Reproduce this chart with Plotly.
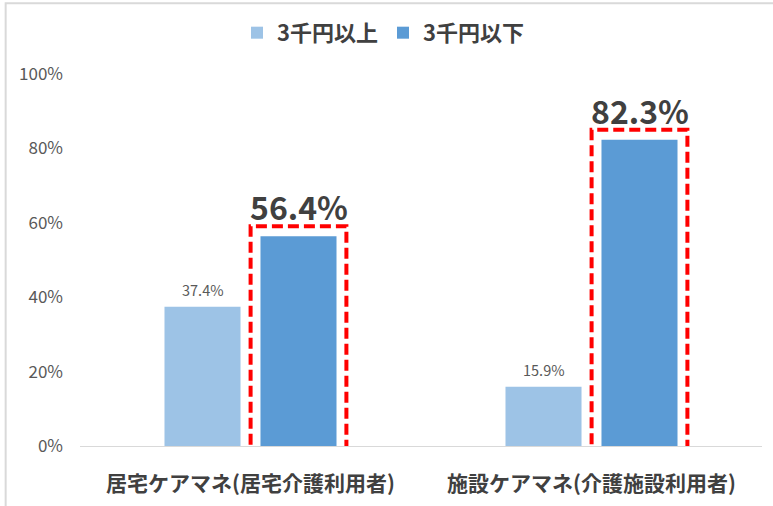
import plotly.graph_objects as go

categories = ["居宅ケアマネ(居宅介護利用者)", "施設ケアマネ(介護施設利用者)"]
series_names = ["3千円以上", "3千円以下"]
values_above = [37.4, 15.9]
values_below = [56.4, 82.3]
y_ticks = [0, 20, 40, 60, 80, 100]
y_tick_labels = ["0%", "20%", "40%", "60%", "80%", "100%"]

FONT = "Noto Sans CJK JP"
LIGHT = "#9DC3E6"
DARK = "#5B9BD5"
BARGAP = 0.437
GROUPGAP = 0.208

fig = go.Figure()
fig.add_trace(go.Bar(name=series_names[0], x=categories, y=values_above,
                     marker=dict(color=LIGHT, line=dict(width=0))))
fig.add_trace(go.Bar(name=series_names[1], x=categories, y=values_below,
                     marker=dict(color=DARK, line=dict(width=0))))

slot = (1 - BARGAP) / 2          # width of one bar slot in category units
bar_w = slot * (1 - GROUPGAP)
offset = slot / 2                # center offset of each bar from category center

annotations = []
shapes = []
for i, cat in enumerate(categories):
    annotations.append(dict(x=i - offset, y=values_above[i], xref="x", yref="y",
                            text=f"{values_above[i]:.1f}%", showarrow=False,
                            yanchor="middle", yshift=17,
                            font=dict(family=FONT, size=14.5, color="#595959")))
    annotations.append(dict(x=i + offset, y=values_below[i], xref="x", yref="y",
                            text=f"<b>{values_below[i]:.1f}%</b>", showarrow=False,
                            yanchor="middle", yshift=30,
                            font=dict(family=FONT, size=32, color="#404040")))
    pad_x = bar_w / 2 + 0.029
    shapes.append(dict(type="rect", xref="x", yref="y",
                       x0=i + offset - pad_x, x1=i + offset + pad_x,
                       y0=-1.3, y1=values_below[i] + 2.7,
                       line=dict(color="#FF0000", width=4, dash="11px,5px"),
                       fillcolor="rgba(0,0,0,0)", layer="above"))

shapes.append(dict(type="rect", xref="paper", yref="paper",
                   x0=-0.109, x1=1.2, y0=-0.3, y1=1.19,
                   line=dict(color="#D9D9D9", width=2), fillcolor="rgba(0,0,0,0)",
                   layer="below"))

fig.update_layout(
    width=773, height=506,
    margin=dict(l=80, r=11, t=74, b=60, autoexpand=False),
    paper_bgcolor="white", plot_bgcolor="white",
    barmode="group", bargap=BARGAP, bargroupgap=GROUPGAP,
    font=dict(family=FONT, color="#595959"),
    showlegend=True,
    legend=dict(orientation="h", xref="container", yref="container",
                x=0.3066, xanchor="left", y=0.935, yanchor="middle",
                font=dict(family=FONT, size=22, color="#404040", weight="bold"),
                itemwidth=30, traceorder="normal", bgcolor="rgba(0,0,0,0)"),
    annotations=annotations,
    shapes=shapes,
)
fig.update_xaxes(type="category", showgrid=False, showline=True, linecolor="#D9D9D9",
                 linewidth=1, ticks="", zeroline=False, automargin=False,
                 tickfont=dict(family=FONT, size=21, color="#404040", weight="bold"),
                 ticklabelstandoff=19)
fig.update_yaxes(range=[0, 100], tickvals=y_ticks, ticktext=y_tick_labels,
                 showgrid=False, zeroline=False, showline=False, ticks="",
                 automargin=False,
                 tickfont=dict(family=FONT, size=17, color="#595959"),
                 ticklabelstandoff=16)

fig.write_html("out.html", config={"displayModeBar": False},
               post_script="document.body.style.margin='0';document.body.style.overflow='hidden';")
